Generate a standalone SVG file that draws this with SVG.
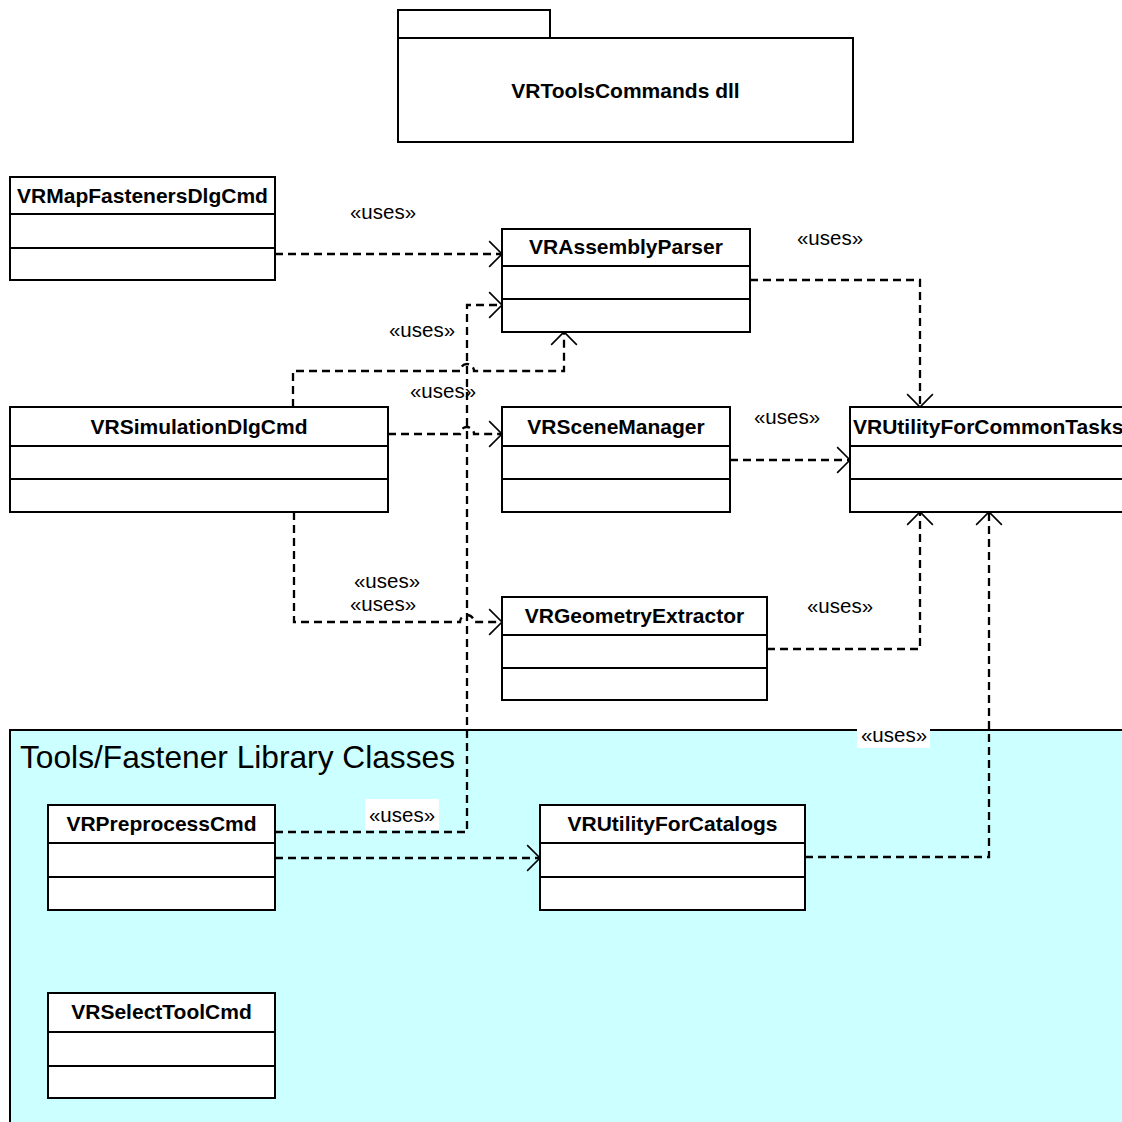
<svg xmlns="http://www.w3.org/2000/svg" width="1122" height="1122" viewBox="0 0 1122 1122">
  <style>
    .box { fill: #ffffff; stroke: #000000; stroke-width: 2; }
    .sep { stroke: #000000; stroke-width: 2; }
    .name { font-family: "Liberation Sans", Arial, sans-serif; font-weight: bold; font-size: 21px; fill: #000000; }
    .lbl { font-family: "Liberation Sans", Arial, sans-serif; font-size: 20.5px; fill: #000000; text-anchor: middle; }
    .dep { fill: none; stroke: #000000; stroke-width: 2.3; stroke-dasharray: 8 5; marker-end: url(#open); }
    .pkg-title { font-family: "Liberation Sans", Arial, sans-serif; font-size: 31.7px; fill: #000000; }
  </style>
  <defs>
    <marker id="open" markerUnits="userSpaceOnUse" markerWidth="30" markerHeight="30" refX="0" refY="0" viewBox="-14 -14 28 28" orient="auto" overflow="visible">
      <path d="M-12,-12 L0,0 L-12,12" fill="none" stroke="#000000" stroke-width="1.5" stroke-dasharray="none"/>
    </marker>
  </defs>

  <rect width="1122" height="1122" fill="#ffffff"/>

  <!-- package: VRToolsCommands dll -->
  <g id="pkg-vrtoolscommands">
    <rect class="box" x="398" y="10" width="152" height="28"/>
    <rect class="box" x="398" y="38" width="455" height="104"/>
    <text class="name" x="625.5" y="98" text-anchor="middle">VRToolsCommands dll</text>
  </g>

  <!-- package: Tools/Fastener Library Classes -->
  <g id="pkg-tools-fastener">
    <rect x="10" y="730" width="1122" height="400" fill="#ccffff" stroke="#000000" stroke-width="2"/>
    <text class="pkg-title" x="20" y="768">Tools/Fastener Library Classes</text>
  </g>

  <!-- dependencies -->
  <g id="connectors">
    <path class="dep" d="M275 254 H502"/>
    <path class="dep" d="M750 280 H920 V407"/>
    <path class="dep" d="M293 407 V371 H460 A7 7 0 0 1 474 371 H564 V332"/>
    <path class="dep" d="M275 832 H467 V305 H502"/>
    <path class="dep" d="M388 434 H460 A7 7 0 0 1 474 434 H502"/>
    <path class="dep" d="M294 512 V622 H460 A7 7 0 0 1 474 622 H502"/>
    <path class="dep" d="M730 460 H850"/>
    <path class="dep" d="M767 649 H920 V512"/>
    <path class="dep" d="M805 857 H989 V512"/>
    <path class="dep" d="M275 858 H540"/>

    <rect x="857" y="723" width="73" height="25" fill="#ffffff"/>
    <rect x="365" y="799" width="74" height="31" fill="#ffffff"/>

    <text class="lbl" x="383" y="219">«uses»</text>
    <text class="lbl" x="830" y="245">«uses»</text>
    <text class="lbl" x="422" y="337">«uses»</text>
    <text class="lbl" x="443" y="398">«uses»</text>
    <text class="lbl" x="787" y="424">«uses»</text>
    <text class="lbl" x="387" y="588">«uses»</text>
    <text class="lbl" x="383" y="611">«uses»</text>
    <text class="lbl" x="840" y="613">«uses»</text>
    <text class="lbl" x="894" y="742">«uses»</text>
    <text class="lbl" x="402" y="822">«uses»</text>
  </g>

  <!-- classes -->
  <g id="VRMapFastenersDlgCmd">
    <rect class="box" x="10" y="177" width="265" height="103"/>
    <line class="sep" x1="10" y1="214" x2="275" y2="214"/>
    <line class="sep" x1="10" y1="248" x2="275" y2="248"/>
    <text class="name" x="142.5" y="203" text-anchor="middle">VRMapFastenersDlgCmd</text>
  </g>

  <g id="VRAssemblyParser">
    <rect class="box" x="502" y="229" width="248" height="103"/>
    <line class="sep" x1="502" y1="266" x2="750" y2="266"/>
    <line class="sep" x1="502" y1="299" x2="750" y2="299"/>
    <text class="name" x="626" y="254" text-anchor="middle">VRAssemblyParser</text>
  </g>

  <g id="VRSimulationDlgCmd">
    <rect class="box" x="10" y="407" width="378" height="105"/>
    <line class="sep" x1="10" y1="446" x2="388" y2="446"/>
    <line class="sep" x1="10" y1="479" x2="388" y2="479"/>
    <text class="name" x="199" y="434" text-anchor="middle">VRSimulationDlgCmd</text>
  </g>

  <g id="VRSceneManager">
    <rect class="box" x="502" y="407" width="228" height="105"/>
    <line class="sep" x1="502" y1="446" x2="730" y2="446"/>
    <line class="sep" x1="502" y1="479" x2="730" y2="479"/>
    <text class="name" x="616" y="434" text-anchor="middle">VRSceneManager</text>
  </g>

  <g id="VRUtilityForCommonTasks">
    <rect class="box" x="850" y="407" width="280" height="105"/>
    <line class="sep" x1="850" y1="446" x2="1130" y2="446"/>
    <line class="sep" x1="850" y1="479" x2="1130" y2="479"/>
    <text class="name" x="853" y="434">VRUtilityForCommonTasks</text>
  </g>

  <g id="VRGeometryExtractor">
    <rect class="box" x="502" y="597" width="265" height="103"/>
    <line class="sep" x1="502" y1="635" x2="767" y2="635"/>
    <line class="sep" x1="502" y1="668" x2="767" y2="668"/>
    <text class="name" x="634.5" y="623" text-anchor="middle">VRGeometryExtractor</text>
  </g>

  <g id="VRPreprocessCmd">
    <rect class="box" x="48" y="805" width="227" height="105"/>
    <line class="sep" x1="48" y1="843" x2="275" y2="843"/>
    <line class="sep" x1="48" y1="877" x2="275" y2="877"/>
    <text class="name" x="161.5" y="831" text-anchor="middle">VRPreprocessCmd</text>
  </g>

  <g id="VRUtilityForCatalogs">
    <rect class="box" x="540" y="805" width="265" height="105"/>
    <line class="sep" x1="540" y1="843" x2="805" y2="843"/>
    <line class="sep" x1="540" y1="877" x2="805" y2="877"/>
    <text class="name" x="672.5" y="831" text-anchor="middle">VRUtilityForCatalogs</text>
  </g>

  <g id="VRSelectToolCmd">
    <rect class="box" x="48" y="993" width="227" height="105"/>
    <line class="sep" x1="48" y1="1032" x2="275" y2="1032"/>
    <line class="sep" x1="48" y1="1066" x2="275" y2="1066"/>
    <text class="name" x="161.5" y="1019" text-anchor="middle">VRSelectToolCmd</text>
  </g>
</svg>
